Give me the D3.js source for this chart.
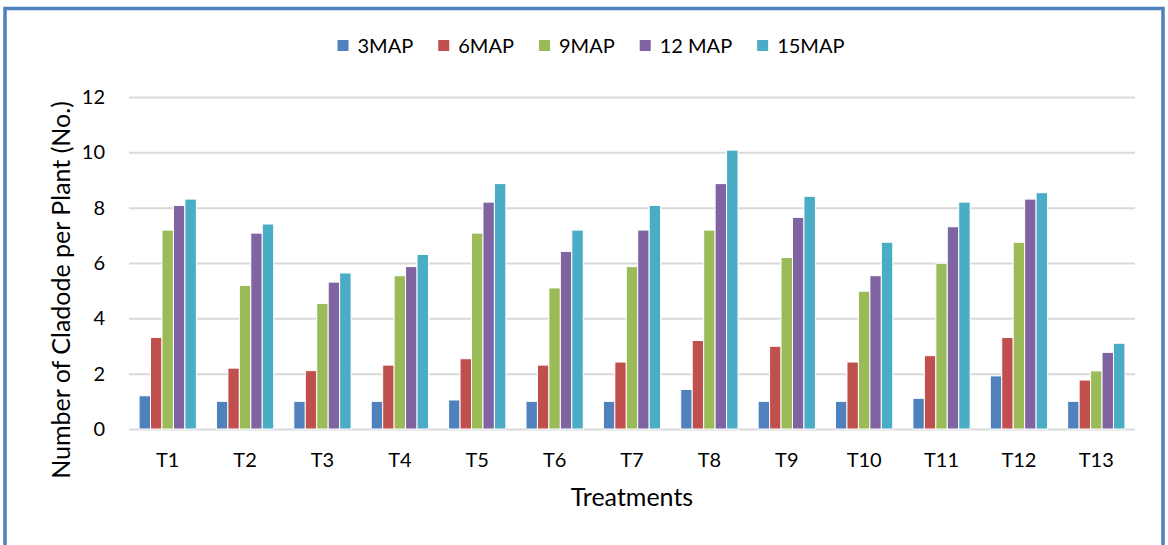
<!DOCTYPE html>
<html>
<head>
<meta charset="utf-8">
<script src="https://cdn.jsdelivr.net/npm/d3@7"></script>
<style>
  body { margin: 0; background: #fff; }
  text { font-family: Lato, 'Open Sans', sans-serif; fill: #000; }
</style>
</head>
<body>
<svg width="1168" height="545"></svg>
<script>
const svg = d3.select('svg');
const width = +svg.attr('width');
const height = +svg.attr('height');

// data
const treatments = ['T1','T2','T3','T4','T5','T6','T7','T8','T9','T10','T11','T12','T13'];
const seriesNames = ['3MAP', '6MAP', '9MAP', '12 MAP', '15MAP'];
const map3  = [1.20, 1.00, 1.00, 1.00, 1.05, 1.00, 1.00, 1.43, 1.00, 1.00, 1.11, 1.92, 1.00];
const map6  = [3.31, 2.20, 2.11, 2.31, 2.54, 2.31, 2.42, 3.20, 2.99, 2.42, 2.65, 3.31, 1.77];
const map9  = [7.19, 5.19, 4.54, 5.54, 7.08, 5.10, 5.87, 7.19, 6.20, 4.98, 5.99, 6.75, 2.10];
const map12 = [8.08, 7.08, 5.31, 5.87, 8.20, 6.42, 7.19, 8.87, 7.65, 5.54, 7.31, 8.31, 2.77];
const map15 = [8.31, 7.41, 5.64, 6.31, 8.87, 7.19, 8.08, 10.08, 8.41, 6.75, 8.20, 8.54, 3.10];
const yTicks = [0, 2, 4, 6, 8, 10, 12];

const colors = ['#4f81bd', '#c0504d', '#9bbb59', '#8064a2', '#4bacc6'];
const seriesValues = [map3, map6, map9, map12, map15];

const margin = {top: 97, right: 33, bottom: 116, left: 129};
const innerWidth = width - margin.left - margin.right;
const innerHeight = height - margin.top - margin.bottom;

// outer frame
svg.append('rect')
    .attr('x', 5)
    .attr('y', 8.5)
    .attr('width', 1158)
    .attr('height', 620)
    .attr('fill', 'none')
    .attr('stroke', '#4f81bd')
    .attr('stroke-width', 3.5);

const g = svg.append('g')
    .attr('transform', `translate(${margin.left}, ${margin.top})`);

const xScale = d3.scaleBand()
    .domain(treatments)
    .range([0, innerWidth])
    .paddingInner(0.26)
    .paddingOuter(0.13);

const xSub = d3.scaleBand()
    .domain(seriesNames)
    .range([0, xScale.bandwidth()]);

const yScale = d3.scaleLinear()
    .domain([0, 12])
    .range([innerHeight, 0]);

// gridlines + y tick labels
const yAxis = d3.axisLeft(yScale)
    .tickValues(yTicks)
    .tickSize(-innerWidth)
    .tickPadding(24);

const yAxisG = g.append('g').call(yAxis);
yAxisG.select('.domain').remove();
yAxisG.selectAll('.tick line')
    .attr('stroke', '#d9d9d9')
    .attr('stroke-width', 2);
yAxisG.selectAll('.tick text')
    .attr('font-size', 20)
    .attr('font-family', 'Lato, sans-serif')
    .attr('fill', '#000');

// bars
const groups = g.selectAll('.group').data(treatments)
    .enter().append('g')
        .attr('class', 'group')
        .attr('transform', d => `translate(${xScale(d)}, 0)`);

groups.selectAll('rect')
    .data((d, i) => seriesNames.map((s, j) => ({series: s, value: seriesValues[j][i], color: colors[j]})))
    .enter().append('rect')
        .attr('x', d => xSub(d.series))
        .attr('width', xSub.bandwidth())
        .attr('y', d => yScale(d.value))
        .attr('height', d => innerHeight - yScale(d.value))
        .attr('fill', d => d.color)
        .attr('stroke', '#fff')
        .attr('stroke-width', 1);

// x axis labels
const xAxis = d3.axisBottom(xScale).tickSize(0).tickPadding(24);
const xAxisG = g.append('g')
    .attr('transform', `translate(0, ${innerHeight})`)
    .call(xAxis);
xAxisG.select('.domain').remove();
xAxisG.selectAll('.tick text')
    .attr('font-size', 20)
    .attr('font-family', 'Lato, sans-serif')
    .attr('fill', '#000');

g.append('text')
    .attr('x', innerWidth / 2)
    .attr('y', innerHeight + 77)
    .attr('text-anchor', 'middle')
    .attr('font-size', 25)
    .text('Treatments');

g.append('text')
    .attr('transform', `translate(${61 - margin.left}, ${290 - margin.top}) rotate(-90)`)
    .attr('text-anchor', 'middle')
    .attr('dy', '0.35em')
    .attr('font-size', 25)
    .text('Number of Cladode per Plant (No.)');

// legend
const legend = svg.append('g');
let lx = 0;
seriesNames.forEach((s, i) => {
    const item = legend.append('g').attr('transform', `translate(${lx}, 0)`);
    item.append('rect')
        .attr('x', 0)
        .attr('y', -6)
        .attr('width', 11)
        .attr('height', 11)
        .attr('fill', colors[i]);
    const t = item.append('text')
        .attr('x', 20)
        .attr('dy', '0.35em')
        .attr('font-size', 20)
        .text(s);
    lx += 20 + t.node().getComputedTextLength() + 25;
});
lx -= 25;
legend.attr('transform', `translate(${591 - lx / 2}, 46)`);
</script>
</body>
</html>
